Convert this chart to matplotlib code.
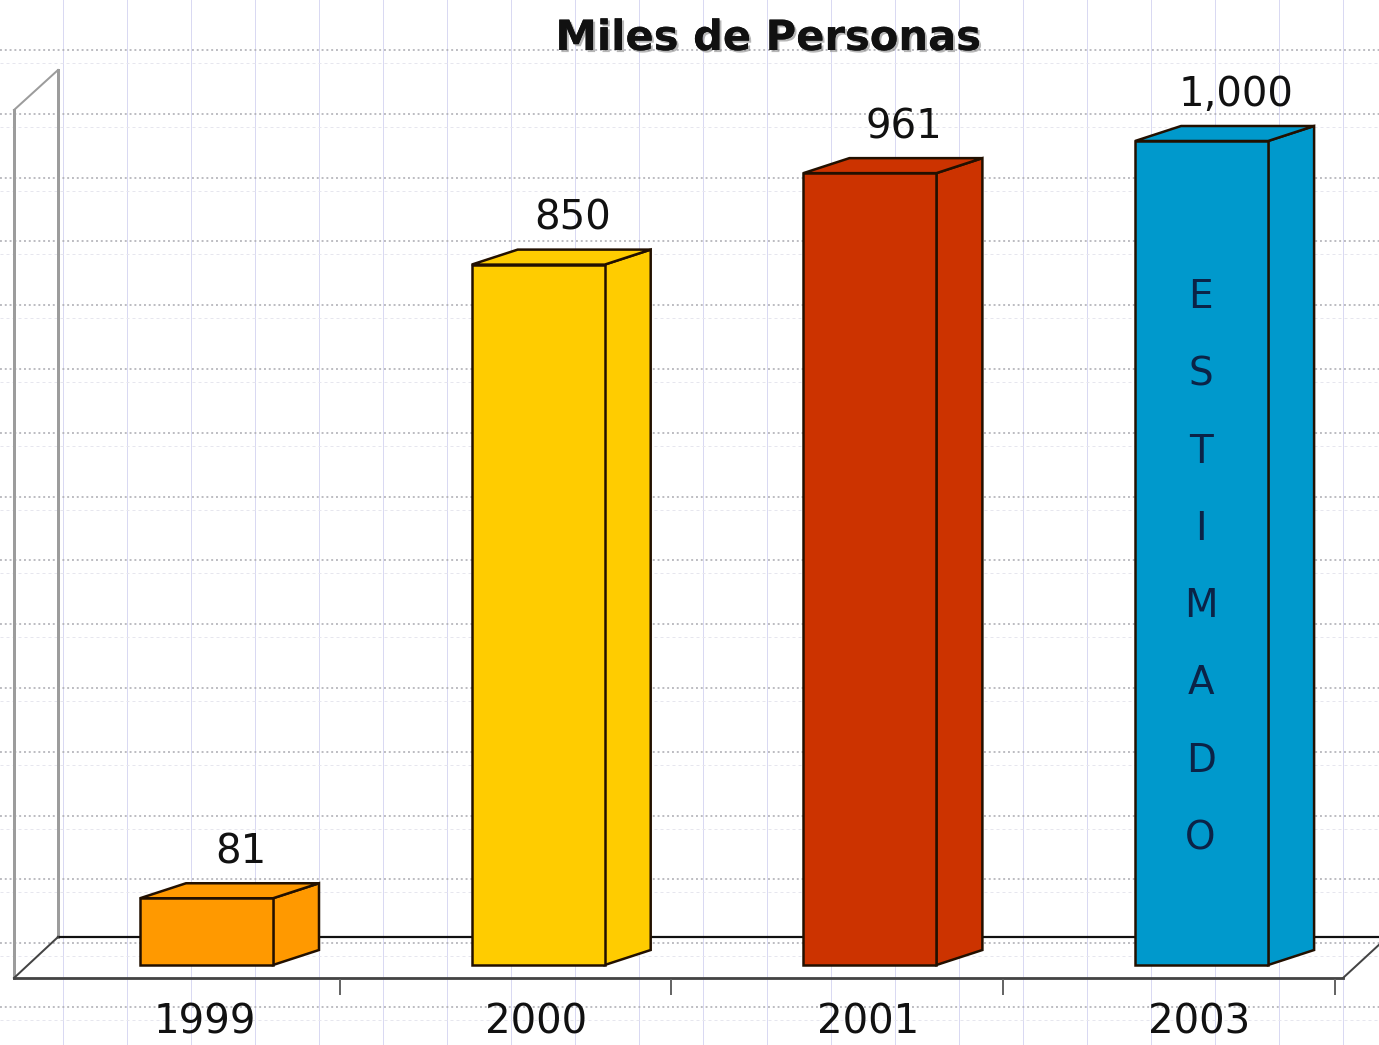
import matplotlib
matplotlib.use("Agg")
import matplotlib.pyplot as plt
from matplotlib.patches import Polygon
import matplotlib.patheffects as pe

# ---- data ----
categories = ["1999", "2000", "2001", "2003"]
values = [81, 850, 961, 1000]
value_labels = ["81", "850", "961", "1,000"]
colors = ["#FF9900", "#FFCC00", "#CC3300", "#0099CC"]
title = "Miles de Personas"
note = "ESTIMADO"

W, H = 1379, 1045
fig = plt.figure(figsize=(W / 100, H / 100), dpi=100)
PX = 0.72  # points per pixel

# ---- background (pixel coordinates) ----
bg = fig.add_axes([0, 0, 1, 1])
bg.set_xlim(0, W)
bg.set_ylim(H, 0)
bg.axis("off")
bg.set_zorder(0)

x = -1
while x < W:
    bg.plot([x, x], [0, H], color="#d9d9f2", lw=1.0 * PX, zorder=1)
    x += 64
y = 50 - 63.8
while y < H:
    bg.plot([0, W], [y, y], color="#adadb4", lw=1.6 * PX, ls=(0, (1.2, 1.8)), zorder=1)
    bg.plot([0, W], [y + 13, y + 13], color="#e6e6ee", lw=1.0 * PX, ls=(0, (3, 3)), zorder=1)
    y += 63.8

# wall
wall = "#9c9c9c"
bg.plot([14, 14], [110, 978], color=wall, lw=3 * PX, zorder=2)
bg.plot([58, 58], [70, 937], color=wall, lw=3 * PX, zorder=2)
bg.plot([14, 58], [110, 70], color=wall, lw=2 * PX, zorder=2)
# floor
bg.plot([58, W], [937, 937], color="#111111", lw=2.2 * PX, zorder=2)
bg.plot([14, 1343], [978, 978], color="#444444", lw=2.8 * PX, zorder=2)
bg.plot([14, 58], [978, 937], color="#444444", lw=2 * PX, zorder=2)
bg.plot([1343, 1382], [978, 942], color="#444444", lw=2 * PX, zorder=2)
for k in range(len(categories)):
    tx = 8 + 331.7 * (k + 1)
    bg.plot([tx, tx], [980, 994], color="#666666", lw=2 * PX, zorder=2)

# ---- bars (data coordinates) ----
step_px = 331.7      # pixels per category
x0_px = 206.5        # pixel x of first bar centre
base_px = 965.0      # pixel y of value 0
k_px = 0.824         # pixels per unit of value

ax = fig.add_axes([0, 0, 1, 1])
ax.set_zorder(1)
ax.patch.set_alpha(0)
ax.set_xlim(-x0_px / step_px, (W - x0_px) / step_px)
ax.set_ylim(-(H - base_px) / k_px, base_px / k_px)
ax.axis("off")

bw = 133 / step_px
dx = 46 / step_px
dy = 15 / k_px
edge = "#221000"
xs = list(range(len(categories)))

ax.bar(xs, values, width=bw, color=colors, edgecolor=edge, linewidth=1.8, zorder=3)
for xi, v, c in zip(xs, values, colors):
    r = xi + bw / 2
    l = xi - bw / 2
    side = Polygon([(r, 0), (r + dx, dy), (r + dx, v + dy), (r, v)], closed=True,
                   facecolor=c, edgecolor=edge, linewidth=1.8, zorder=2.9)
    top = Polygon([(l, v), (r, v), (r + dx, v + dy), (l + dx, v + dy)], closed=True,
                  facecolor=c, edgecolor=edge, linewidth=1.8, zorder=2.9)
    ax.add_patch(side)
    ax.add_patch(top)

# value labels
for xi, v, lab in zip(xs, values, value_labels):
    ax.annotate(lab, xy=(xi, v), xytext=(34 * PX, 46 * PX), textcoords="offset points",
                ha="center", va="center", fontsize=29, color="#111111",
                fontfamily="DejaVu Sans", zorder=5)

# category labels
for xi, lab in zip(xs, categories):
    ax.annotate(lab, xy=(xi, 0), xytext=(-2 * PX, -58 * PX), textcoords="offset points",
                ha="center", va="center", fontsize=29, color="#111111",
                fontfamily="DejaVu Sans", zorder=5)

# ESTIMADO inside last bar
last = xs[-1]
for j, ch in enumerate(note):
    ax.annotate(ch, xy=(last, values[-1]), xytext=(-1 * PX, -(156 + 77.3 * j) * PX),
                textcoords="offset points", ha="center", va="center",
                fontsize=28, color="#0b2347", zorder=5)

# title
fig.text(768 / W, 1 - 38 / H, title, ha="center", va="center", fontsize=30,
         fontweight="bold", color="#111111",
         path_effects=[pe.withSimplePatchShadow(offset=(1.5, -1.5), shadow_rgbFace="#888888", alpha=0.6),
                       pe.Normal()])

fig.savefig("out.png", dpi=100, facecolor="white")
